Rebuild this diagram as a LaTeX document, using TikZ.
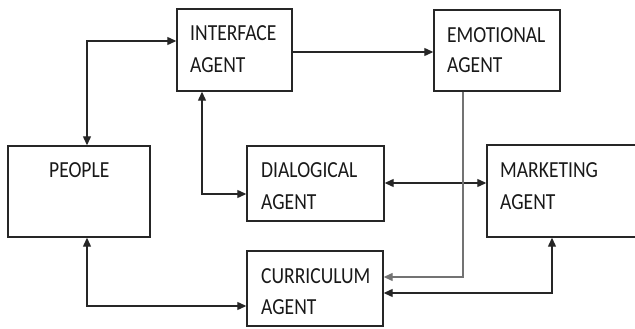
\documentclass[tikz,border=0pt]{standalone}
\usepackage{fontspec}
\setmainfont{Carlito}
\usetikzlibrary{arrows.meta}
\begin{document}
\begin{tikzpicture}[x=1pt,y=-1pt,
  box/.style={draw=black!85,line width=1.4pt,inner sep=0pt},
  lbl/.style={anchor=base west,inner sep=0pt,font=\fontsize{23}{23}\selectfont,text=black!90},
  conn/.style={line width=1.2pt,draw=black!85},
  tip/.style={-{Triangle[length=9pt,width=8pt]}},
  both/.style={{Triangle[length=9pt,width=8pt]}-{Triangle[length=9pt,width=8pt]}}]
\useasboundingbox (0,0) rectangle (635,329);
\clip (0,0) rectangle (635,329);
% boxes
\node[box,minimum width=115pt,minimum height=82pt] (int) at (234.5,50) {};
\node[box,minimum width=126pt,minimum height=81pt] (emo) at (497,50.5) {};
\node[box,minimum width=142pt,minimum height=91pt] (peo) at (79,191.5) {};
\node[box,minimum width=137pt,minimum height=75pt] (dia) at (315.5,183.5) {};
\node[box,minimum width=160pt,minimum height=92pt] (mar) at (567,191) {};
\node[box,minimum width=136pt,minimum height=75pt] (cur) at (315,288.5) {};
% labels
\node[lbl] (t1) at (190,41) {\scalebox{0.85}[1]{INTERFACE}};
\node[lbl] (t2) at (190,73) {\scalebox{0.85}[1]{AGENT}};
\node[lbl] (t3) at (447,43) {\scalebox{0.85}[1]{EMOTIONAL}};
\node[lbl] (t4) at (447,73) {\scalebox{0.85}[1]{AGENT}};
\node[lbl] (t5) at (49,177) {\scalebox{0.85}[1]{PEOPLE}};
\node[lbl] (t6) at (261,177) {\scalebox{0.85}[1]{DIALOGICAL}};
\node[lbl] (t7) at (261,209) {\scalebox{0.85}[1]{AGENT}};
\node[lbl] (t8) at (500,177) {\scalebox{0.85}[1]{MARKETING}};
\node[lbl] (t9) at (500,209) {\scalebox{0.85}[1]{AGENT}};
\node[lbl] (t10) at (261,283) {\scalebox{0.85}[1]{CURRICULUM}};
\node[lbl] (t11) at (261,314) {\scalebox{0.85}[1]{AGENT}};
% connectors
\draw[conn,both] (peo.north -| 87,0) |- (int.west |- 0,41);
\draw[conn,tip] (int.east |- 0,52) -- (emo.west |- 0,52);
\draw[conn,both] (int.south -| 202,0) |- (dia.west |- 0,194);
\draw[conn,both] (dia.east |- 0,183) -- (mar.west |- 0,183);
\draw[line width=1.3pt,draw=black!55,tip] (emo.south -| 463,0) |- (cur.east |- 0,277);
\draw[conn,both] (mar.south -| 552,0) |- (cur.east |- 0,293);
\draw[conn,both] (peo.south -| 87,0) |- (cur.west |- 0,306);
\end{tikzpicture}
\end{document}
